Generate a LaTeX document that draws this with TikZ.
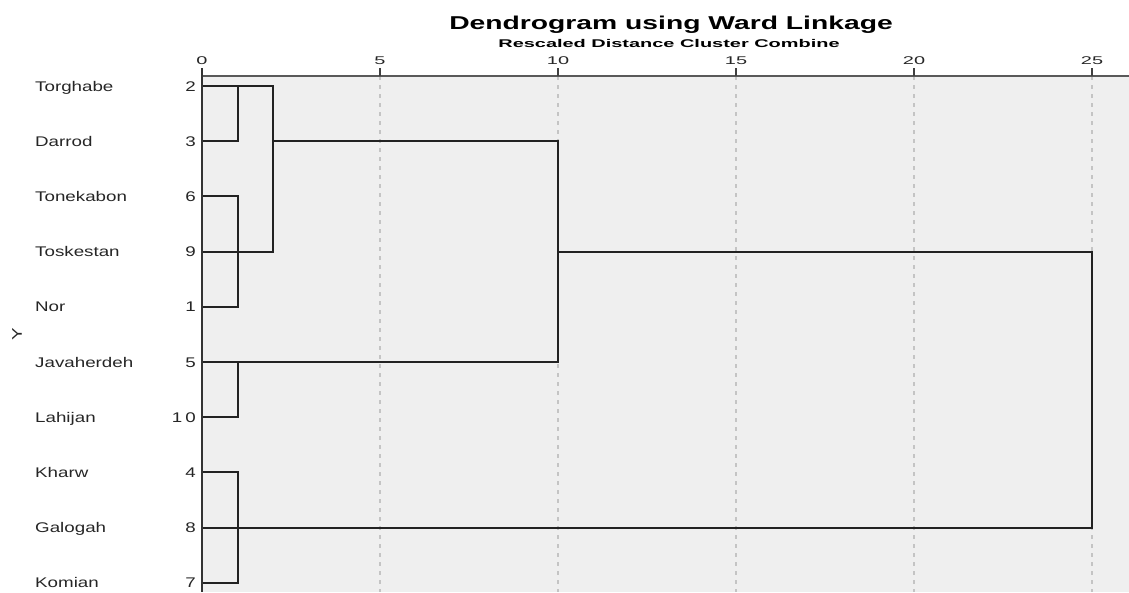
\documentclass[tikz,border=0pt]{standalone}
\usepackage{fontspec}
\setmainfont{Liberation Sans}
\newfontfamily\rowfont[FakeStretch=1.34]{Liberation Sans}
\newfontfamily\titlefont[FakeStretch=1.52]{Liberation Sans}
\newfontfamily\smallfont[FakeStretch=1.78]{Liberation Sans}
\usetikzlibrary{positioning}
\definecolor{panelgray}{HTML}{EFEFEF}
\definecolor{gridgray}{HTML}{C4C4C4}
\definecolor{linkgray}{HTML}{222222}
\tikzstyle{site} = [anchor=base west, inner sep=0pt, text=black!85, font=\rowfont\fontsize{14}{14}\selectfont]
\tikzstyle{case} = [anchor=base east, inner sep=0pt, text=black!85, font=\rowfont\fontsize{14}{14}\selectfont]
\tikzstyle{tick} = [anchor=base, inner sep=0pt, text=black!85, font=\smallfont\fontsize{11.2}{11.2}\selectfont]
\tikzstyle{grid} = [gridgray, line width=1.2pt, dash pattern=on 4pt off 5pt]
\tikzstyle{link} = [linkgray, line width=2.1pt]

\begin{document}
\begin{tikzpicture}[x=1pt, y=-1pt]
				\useasboundingbox (0,0) rectangle (1129,592);
				\fill[panelgray] (202,76) rectangle (1129,592);
				% titles
				\node (title) at (671,29) [anchor=base, inner sep=0pt, font=\titlefont\bfseries\fontsize{18.6}{18.6}\selectfont] {Dendrogram using Ward Linkage};
				\node (subtitle) at (669,47.3) [anchor=base, inner sep=0pt, font=\smallfont\bfseries\fontsize{11.2}{11.2}\selectfont] {Rescaled Distance Cluster Combine};
				% axis
				\coordinate (c0) at (202,76);
				\coordinate (c1) at (237.6,76);
				\coordinate (c2) at (273.2,76);
				\coordinate (c5) at (380,76);
				\coordinate (c10) at (558,76);
				\coordinate (c15) at (736,76);
				\coordinate (c20) at (914,76);
				\coordinate (c25) at (1092,76);
				\coordinate (cend) at (1129,76);
				\draw[grid] (c5) -- (c5 |- 0,592);
				\draw[grid] (c10) -- (c10 |- 0,592);
				\draw[grid] (c15) -- (c15 |- 0,592);
				\draw[grid] (c20) -- (c20 |- 0,592);
				\draw[grid] (c25) -- (c25 |- 0,592);
				\node (t0) at (202,64) [tick] {0};
				\node (t5) at (380,64) [tick] {5};
				\node (t10) at (558,64) [tick] {10};
				\node (t15) at (736,64) [tick] {15};
				\node (t20) at (914,64) [tick] {20};
				\node (t25) at (1092,64) [tick] {25};
				\draw[black!65, line width=2pt] (c0) -- (cend);
				\draw[black!75, line width=1.8pt] (c5) -- ++(0,-8);
				\draw[black!75, line width=1.8pt] (c10) -- ++(0,-8);
				\draw[black!75, line width=1.8pt] (c15) -- ++(0,-8);
				\draw[black!75, line width=1.8pt] (c20) -- ++(0,-8);
				\draw[black!75, line width=1.8pt] (c25) -- ++(0,-8);
				% cases
				\coordinate (p2) at (202,86);
				\coordinate (p3) at (202,141.2);
				\coordinate (p6) at (202,196.4);
				\coordinate (p9) at (202,251.6);
				\coordinate (p1) at (202,306.8);
				\coordinate (p5) at (202,362);
				\coordinate (p10) at (202,417.2);
				\coordinate (p4) at (202,472.4);
				\coordinate (p8) at (202,527.6);
				\coordinate (p7) at (202,582.8);
				\node (torghabe) at (35,91) [site] {Torghabe};
				\node (darrod) at (35,146.2) [site] {Darrod};
				\node (tonekabon) at (35,201.4) [site] {Tonekabon};
				\node (toskestan) at (35,256.6) [site] {Toskestan};
				\node (nor) at (35,311.8) [site] {Nor};
				\node (javaherdeh) at (35,367) [site] {Javaherdeh};
				\node (lahijan) at (35,422.2) [site] {Lahijan};
				\node (kharw) at (35,477.4) [site] {Kharw};
				\node (galogah) at (35,532.6) [site] {Galogah};
				\node (komian) at (35,587.8) [site] {Komian};
				\node (n2) at (196,91) [case] {2};
				\node (n3) at (196,146.2) [case] {3};
				\node (n6) at (196,201.4) [case] {6};
				\node (n9) at (196,256.6) [case] {9};
				\node (n1) at (196,311.8) [case] {1};
				\node (n5) at (196,367) [case] {5};
				\node (n10) at (196,422.2) [case] {1\kern3pt 0};
				\node (n4) at (196,477.4) [case] {4};
				\node (n8) at (196,532.6) [case] {8};
				\node (n7) at (196,587.8) [case] {7};
				\node (ylabel) at (17,334) [rotate=90, inner sep=0pt, text=black!85, font=\rowfont\fontsize{14}{14}\selectfont] {Y};
				% links
				\draw[link] (p2) -- (p2 -| c2) -- (p9 -| c2) -- (p9);
				\draw[link] (p3) -| (p2 -| c1);
				\draw[link] (p6) -- (p6 -| c1) -- (p1 -| c1) -- (p1);
				\draw[link] (p3 -| c2) -- (p3 -| c10) -- (p5 -| c10) -- (p5);
				\draw[link] (p10) -| (p5 -| c1);
				\draw[link] (p9 -| c10) -- (p9 -| c25) -- (p8 -| c25) -- (p8);
				\draw[link] (p4) -- (p4 -| c1) -- (p7 -| c1) -- (p7);
				\draw[black!80, line width=2.5pt] (202,68) -- (202,592);
				\end{tikzpicture}
\end{document}
